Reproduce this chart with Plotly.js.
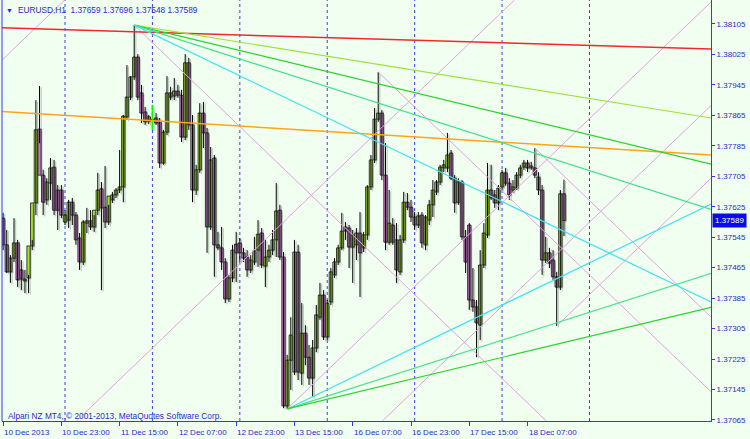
<!DOCTYPE html>
<html><head><meta charset="utf-8">
<script src="https://cdn.plot.ly/plotly-3.0.1.min.js"></script>
<style>html,body{margin:0;padding:0;background:#f0fff0;}#chart{width:750px;height:439px;}</style>
</head><body><div id="chart"></div>
<script>
// ---- data (EURUSD H1, bars from 10 Dec 07:00 to 18 Dec 17:00) ----
const symbol = "EURUSD,H1";
const open = [
1.37595,1.37525,1.37454,1.37490,1.37530,1.37459,1.37435,1.37438,1.37522,1.37635,
1.37829,1.37708,1.37643,1.37687,1.37729,1.37669,1.37669,
1.37585,1.37590,1.37637,1.37603,1.37543,1.37480,1.37582,1.37588,1.37572,1.37616,
1.37672,1.37624,1.37585,1.37643,1.37656,1.37669,1.37677,1.37861,1.37913,1.37966,
1.38018,1.37924,1.37874,1.37850,1.37853,1.37858,1.37848,1.37740,1.37821,1.37924,
1.37916,1.37929,1.37918,1.37808,1.38003,1.37840,1.37669,1.37722,1.37871,1.37819,
1.37572,1.37753,1.37525,1.37517,1.37480,1.37383,1.37438,1.37527,1.37530,1.37504,
1.37493,1.37459,1.37480,1.37511,1.37556,1.37469,1.37493,1.37511,1.37538,1.37616,
1.37493,1.37102,1.37222,1.37191,1.37506,1.37188,1.37293,1.37230,1.37175,1.37254,
1.37335,1.37393,1.37283,1.37375,1.37446,1.37480,1.37517,1.37572,1.37569,1.37519,
1.37525,1.37556,1.37517,1.37551,1.37677,1.37748,1.37855,1.37871,1.37708,1.37532,
1.37577,1.37538,1.37454,1.37538,1.37637,1.37624,1.37598,1.37577,1.37603,1.37525,
1.37590,1.37630,1.37664,1.37690,1.37727,1.37727,1.37766,1.37700,1.37637,1.37690,
1.37546,1.37577,1.37380,1.37362,1.37314,1.37472,1.37551,1.37669,1.37656,1.37635,
1.37677,1.37714,1.37687,1.37669,1.37674,1.37708,1.37729,1.37740,1.37727,1.37727,
1.37703,1.37669,1.37485,1.37504,1.37485,1.37441,1.37414,1.37659];
const high = [
1.37609,1.37564,1.37498,1.37595,1.37538,1.37485,1.37459,1.37446,1.37538,1.37905,
1.37942,1.37722,1.37700,1.37753,1.37748,1.37682,1.37682,
1.37616,1.37643,1.37648,1.37611,1.37556,1.37590,1.37622,1.37616,1.37603,1.37714,
1.37690,1.37732,1.37630,1.37664,1.37674,1.37774,1.37866,1.37997,1.37968,1.38102,
1.38026,1.37945,1.37887,1.37866,1.37892,1.37871,1.37858,1.37827,1.37968,1.37940,
1.37963,1.37945,1.37932,1.38026,1.38016,1.37866,1.37735,1.37897,1.37900,1.37832,
1.37782,1.37761,1.37559,1.37572,1.37490,1.37446,1.37525,1.37559,1.37543,1.37517,
1.37511,1.37498,1.37546,1.37590,1.37569,1.37538,1.37525,1.37564,1.37687,1.37630,
1.37506,1.37236,1.37335,1.37538,1.37525,1.37372,1.37314,1.37262,1.37275,1.37367,
1.37425,1.37406,1.37380,1.37464,1.37490,1.37525,1.37609,1.37585,1.37577,1.37564,
1.37569,1.37611,1.37559,1.37682,1.37761,1.37884,1.37979,1.37879,1.37792,1.37669,
1.37595,1.37582,1.37551,1.37664,1.37661,1.37643,1.37611,1.37611,1.37611,1.37603,
1.37643,1.37695,1.37695,1.37735,1.37748,1.37819,1.37774,1.37708,1.37700,1.37695,
1.37564,1.37582,1.37464,1.37380,1.37511,1.37582,1.37740,1.37735,1.37669,1.37682,
1.37722,1.37727,1.37700,1.37695,1.37716,1.37735,1.37748,1.37748,1.37743,1.37779,
1.37716,1.37682,1.37546,1.37517,1.37511,1.37454,1.37669,1.37696];
const low = [
1.37511,1.37451,1.37425,1.37480,1.37414,1.37406,1.37398,1.37398,1.37511,1.37603,
1.37792,1.37603,1.37630,1.37643,1.37603,1.37564,1.37595,
1.37577,1.37569,1.37577,1.37525,1.37459,1.37472,1.37556,1.37564,1.37559,1.37603,
1.37406,1.37569,1.37577,1.37635,1.37648,1.37661,1.37637,1.37853,1.37905,1.37958,
1.37905,1.37845,1.37840,1.37842,1.37827,1.37840,1.37727,1.37735,1.37813,1.37905,
1.37905,1.37911,1.37795,1.37800,1.37827,1.37637,1.37656,1.37714,1.37779,1.37504,
1.37564,1.37441,1.37511,1.37459,1.37372,1.37375,1.37427,1.37427,1.37480,1.37480,
1.37441,1.37451,1.37472,1.37467,1.37464,1.37414,1.37480,1.37498,1.37493,1.37485,
1.37096,1.37094,1.37144,1.37183,1.37170,1.37157,1.37209,1.37157,1.37125,1.37243,
1.37328,1.37275,1.37275,1.37367,1.37438,1.37472,1.37511,1.37538,1.37464,1.37425,
1.37485,1.37388,1.37506,1.37538,1.37669,1.37740,1.37848,1.37695,1.37511,1.37525,
1.37525,1.37425,1.37446,1.37530,1.37616,1.37585,1.37564,1.37569,1.37517,1.37511,
1.37577,1.37598,1.37656,1.37682,1.37716,1.37716,1.37695,1.37609,1.37630,1.37538,
1.37451,1.37354,1.37349,1.37230,1.37275,1.37464,1.37543,1.37643,1.37622,1.37616,
1.37669,1.37680,1.37643,1.37661,1.37669,1.37700,1.37722,1.37716,1.37722,1.37700,
1.37656,1.37446,1.37477,1.37464,1.37433,1.37312,1.37406,1.37548];
const close = [
1.37525,1.37454,1.37490,1.37530,1.37433,1.37435,1.37430,1.37522,1.37635,1.37827,
1.37708,1.37637,1.37690,1.37727,1.37616,1.37616,1.37603,
1.37603,1.37637,1.37603,1.37538,1.37480,1.37585,1.37588,1.37572,1.37616,1.37669,
1.37622,1.37585,1.37653,1.37656,1.37669,1.37677,1.37863,1.37913,1.37966,1.38018,
1.37913,1.37871,1.37848,1.37861,1.37853,1.37845,1.37740,1.37821,1.37924,1.37913,
1.37929,1.37918,1.37808,1.38003,1.37840,1.37669,1.37722,1.37871,1.37819,1.37572,
1.37748,1.37525,1.37517,1.37480,1.37383,1.37438,1.37511,1.37504,1.37504,1.37490,
1.37459,1.37485,1.37509,1.37553,1.37472,1.37493,1.37511,1.37538,1.37614,1.37493,
1.37102,1.37222,1.37288,1.37506,1.37191,1.37293,1.37230,1.37175,1.37254,1.37341,
1.37393,1.37283,1.37372,1.37454,1.37480,1.37517,1.37561,1.37561,1.37519,1.37551,
1.37556,1.37504,1.37551,1.37677,1.37748,1.37855,1.37871,1.37708,1.37532,1.37582,
1.37532,1.37459,1.37538,1.37637,1.37624,1.37598,1.37577,1.37601,1.37530,1.37598,
1.37630,1.37669,1.37690,1.37729,1.37735,1.37761,1.37700,1.37635,1.37690,1.37546,
1.37480,1.37380,1.37362,1.37320,1.37472,1.37556,1.37669,1.37648,1.37635,1.37674,
1.37714,1.37687,1.37656,1.37677,1.37708,1.37727,1.37740,1.37727,1.37732,1.37708,
1.37669,1.37485,1.37504,1.37477,1.37441,1.37414,1.37659,1.37589];

const tickBars   = [0,16,32,48,64,80,96,112,128,144];
const tickLabels = ["10 Dec 2013","10 Dec 23:00","11 Dec 15:00","12 Dec 07:00","12 Dec 23:00",
                    "13 Dec 15:00","16 Dec 07:00","16 Dec 23:00","17 Dec 15:00","18 Dec 07:00"];
const separatorBars = [17,41,65,89,113,137,161];
const priceTicks = [1.37065,1.37145,1.37225,1.37305,1.37385,1.37465,1.37545,1.37625,1.37705,1.37785,1.37865,1.37945,1.38025,1.38105];

// trend lines: [bar, price] pairs
const redLine    = {bars:[-0.3,194.4], prices:[1.38095,1.38039]};
const orangeLine = {bars:[-0.3,194.4], prices:[1.37875,1.37761]};
const topFanAnchor = {bar:36, price:1.38102};
const topFanEnds = {bar:194.4, prices:[1.37858,1.37737,1.37618,1.37375]};
const topFanColors = ["#9fe23c","#2ad42a","#3fe08c","#40e2ee"];
const botFanAnchor = {bar:78, price:1.37094};
const botFanEnds = {bar:194.4, prices:[1.37632,1.37450,1.37361]};
const botFanColors = ["#40e2ee","#4ee38e","#2ad42a"];
const gannBars = [[-0.85,16.89],[20.0,140.4],[78,194.4],[104.0,194.4],[152,194.4],[36,149.3],[103,194.4],[146,194.4]];
const gannPrices = [[1.38005,1.38168],[1.37061,1.38168],[1.37094,1.38163],[1.37061,1.37891],[1.37312,1.37700],[1.38102,1.37061],[1.37979,1.37139],[1.37779,1.37335]];

// ---- rendering ----
const AX = "#3434ff", TX = "#2a2ad2", FONT = "Liberation Sans, Arial, sans-serif";
const BULL = "#a8e42a", BEAR = "#d67cd6";
const bars = open.map((_, i) => i);
const xRange = [-0.302, 194.37];
const yRange = [1.370623, 1.38168];
const last = open.length - 1;
const wickX = bars.flatMap(i => [i, i, null]);
const wickY = bars.flatMap(i => [low[i], high[i], null]);
const bodyLen = bars.map(i => close[i] - open[i]);

const traces = [];
// main candles (base axes)
traces.push({type:'scatter', mode:'lines', x:wickX, y:wickY, line:{color:'#000000', width:1}, hoverinfo:'skip'});
traces.push({type:'bar', x:bars, base:open, y:bodyLen, width:0.92,
  marker:{color:bars.map(i => close[i] >= open[i] ? BULL : BEAR), line:{color:'#111111', width:0.8}}, hoverinfo:'skip'});
// translucent drop shadow (overlay axes shifted right/down by ~1.5px)
const SH = 'rgba(70,80,70,0.33)';
traces.push({type:'scatter', mode:'lines', x:wickX, y:wickY, xaxis:'x2', yaxis:'y2', line:{color:SH, width:1}, hoverinfo:'skip'});
traces.push({type:'bar', x:bars, base:open, y:bodyLen, width:0.7, xaxis:'x2', yaxis:'y2',
  marker:{color:SH, line:{width:0}}, hoverinfo:'skip'});
// doji bars use the line-chart colour
const dojiIdx = bars.filter(i => open[i] === close[i]);
traces.push({type:'scatter', mode:'lines', x:dojiIdx.flatMap(i=>[i,i,null]), y:dojiIdx.flatMap(i=>[low[i],high[i],null]),
  xaxis:'x3', yaxis:'y3', line:{color:'#00ff00', width:1.5}, hoverinfo:'skip'});

function line(xs, ys, color, width){
  traces.push({type:'scatter', mode:'lines', x:xs, y:ys, xaxis:'x3', yaxis:'y3', line:{color, width}, hoverinfo:'skip'});
}
gannBars.forEach((b, k) => line(b, gannPrices[k], '#e2a2e2', 1));
line(redLine.bars, redLine.prices, '#f02a2a', 1.5);
line(orangeLine.bars, orangeLine.prices, '#ffa515', 1.5);
topFanEnds.prices.forEach((p, k) => line([topFanAnchor.bar, topFanEnds.bar], [topFanAnchor.price, p], topFanColors[k], 1.2));
botFanEnds.prices.forEach((p, k) => line([botFanAnchor.bar, botFanEnds.bar], [botFanAnchor.price, p], botFanColors[k], 1.2));

const shapes = separatorBars.map(b => ({type:'line', xref:'x', yref:'paper', x0:b, x1:b, y0:0, y1:1,
  line:{color:'#3b3bff', width:1, dash:'3px,3px'}, layer:'below'}));
shapes.push({type:'line', xref:'paper', yref:'paper', x0:0, x1:0, y0:0, y1:1, line:{color:AX, width:1}});

const f8 = {family:FONT, size:8, color:TX};
const annotations = tickBars.map((b, k) => ({x:b, xref:'x', y:0, yref:'paper', yanchor:'top', yshift:-5,
  xanchor:'left', xshift:-1, text:tickLabels[k], showarrow:false, font:f8}));
annotations.push({x:0.0099, xref:'paper', y:0.9762, yref:'paper', xanchor:'center', yanchor:'middle',
  text:'▼', showarrow:false, font:{family:FONT, size:7, color:TX}});
annotations.push({x:0.0198, xref:'paper', y:0.9762, yref:'paper', xanchor:'left', yanchor:'middle',
  text:symbol + '\u00a0\u00a0' + [open[last],high[last],low[last],close[last]].map(v=>v.toFixed(5)).join(' '),
  showarrow:false, font:{family:FONT, size:8.3, color:TX}});
annotations.push({x:0.0056, xref:'paper', y:0.0119, yref:'paper', xanchor:'left', yanchor:'middle',
  text:'Alpari NZ MT4,,© 2001-2013, MetaQuotes Software Corp.', showarrow:false, font:{family:FONT, size:8.3, color:TX}});
annotations.push({x:1, xref:'paper', xanchor:'left', xshift:1, y:close[last], yref:'y', yanchor:'middle',
  text:close[last].toFixed(5), showarrow:false, bgcolor:'#0a0aee', borderpad:2,
  font:{family:FONT, size:8, color:'#ffffff'}});

const pxPrice = (yRange[1]-yRange[0])/421;
const layout = {
  width:750, height:439, margin:{l:2, r:39, t:0, b:18, pad:0},
  paper_bgcolor:'#f0fff0', plot_bgcolor:'#f0fff0', showlegend:false, barmode:'overlay',
  xaxis:{range:xRange, showgrid:false, zeroline:false, showline:true, linecolor:AX, linewidth:1,
    ticks:'outside', ticklen:4, tickcolor:AX, tickvals:tickBars, showticklabels:false, fixedrange:true},
  yaxis:{range:yRange, side:'right', showgrid:false, zeroline:false, showline:true, linecolor:AX, linewidth:1,
    ticks:'outside', ticklen:3, tickcolor:AX, tickvals:priceTicks, ticktext:priceTicks.map(v=>v.toFixed(5)),
    tickfont:f8, fixedrange:true},
  xaxis2:{overlaying:'x', range:[xRange[0]-0.45, xRange[1]-0.45], visible:false},
  yaxis2:{overlaying:'y', range:[yRange[0]+1.3*pxPrice, yRange[1]+1.3*pxPrice], visible:false},
  xaxis3:{overlaying:'x', range:xRange, visible:false},
  yaxis3:{overlaying:'y', range:yRange, visible:false},
  shapes, annotations
};
Plotly.newPlot('chart', traces, layout, {staticPlot:true, displayModeBar:false});
</script></body></html>
